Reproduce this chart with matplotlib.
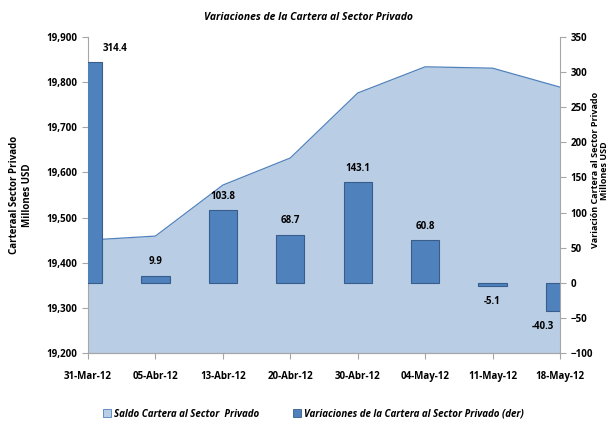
import matplotlib
matplotlib.use('Agg')
import matplotlib.pyplot as plt
from matplotlib.ticker import FuncFormatter
from matplotlib.patches import Patch
import numpy as np

plt.rcParams['font.family'] = ['Open Sans', 'DejaVu Sans']

fechas = ['31-Mar-12', '05-Abr-12', '13-Abr-12', '20-Abr-12',
          '30-Abr-12', '04-May-12', '11-May-12', '18-May-12']
saldo = [19450, 19459, 19572, 19632, 19776, 19834, 19831, 19789]
variacion = [314.4, 9.9, 103.8, 68.7, 143.1, 60.8, -5.1, -40.3]

area_fill = '#B9CDE5'
area_edge = '#4F81BD'
bar_color = '#4F81BD'
bar_edge = '#385D8A'

fig = plt.figure(figsize=(6.14, 4.26), dpi=100)
fig.set_facecolor('w')
ax = fig.add_axes([0.1433, 0.1714, 0.7688, 0.7417])
ax2 = ax.twinx()

x = np.arange(len(fechas))
ax.fill_between(x, 19200, saldo, color=area_fill, lw=0, zorder=1)
ax.plot(x, saldo, color=area_edge, lw=0.9, zorder=2)
ax.set_ylim(19200, 19900)
ax.set_xlim(0, len(fechas) - 1)
ax.set_yticks(np.arange(19200, 19901, 100))
ax.yaxis.set_major_formatter(FuncFormatter(lambda v, p: '{:,.0f}'.format(v)))
ax.set_xticks(x)
ax.set_xticklabels(fechas)

ax2.bar(x, variacion, width=0.42, color=bar_color, edgecolor=bar_edge, lw=0.8, zorder=3)
ax2.set_ylim(-100, 350)
ax2.set_yticks(np.arange(-100, 351, 50))

# etiquetas de las barras
for i, v in enumerate(variacion):
    xi = i
    if i == 0:
        xi = 0.4
    elif i == len(variacion) - 1:
        xi = i - 0.25
    if v >= 0:
        ax2.annotate('{:.1f}'.format(v), (xi, v), xytext=(0, 6), textcoords='offset points',
                     ha='center', va='bottom', fontsize=7, fontweight='bold')
    else:
        ax2.annotate('{:.1f}'.format(v), (xi, v), xytext=(0, -7), textcoords='offset points',
                     ha='center', va='top', fontsize=7, fontweight='bold')

for a in (ax, ax2):
    for s in a.spines.values():
        s.set_color('#A6A6A6')
        s.set_linewidth(0.8)
    a.spines['top'].set_visible(False)
    a.tick_params(labelsize=7, width=0.8, color='#A6A6A6', length=4)
    for t in a.get_yticklabels() + a.get_xticklabels():
        t.set_fontweight('bold')
ax2.spines['left'].set_visible(False)
ax.spines['right'].set_visible(False)
ax.tick_params(axis='x', pad=9)

fig.text(0.502, 0.96, 'Variaciones de la Cartera al Sector Privado', fontsize=7.5,
         fontweight='bold', style='italic', ha='center', va='center')
ax.set_ylabel('Carteraal Sector Privado\nMillones USD', fontsize=7,
              fontweight='bold', labelpad=10, multialignment='center')
fig.text(0.978, 0.60, 'Variación Cartera al Sector Privado\nMillones USD', rotation=90,
         ha='center', va='center', fontsize=6.5, fontweight='bold', multialignment='center',
         linespacing=1.0)

handles = [Patch(facecolor=area_fill, edgecolor=area_edge, lw=0.6),
           Patch(facecolor=bar_color, edgecolor=bar_edge, lw=0.6)]
fig.legend(handles, ['Saldo Cartera al Sector  Privado',
                     'Variaciones de la Cartera al Sector Privado (der)'],
           loc='center', bbox_to_anchor=(0.51, 0.028), ncol=2, frameon=False,
           prop={'size': 7, 'weight': 'bold', 'style': 'italic'},
           handlelength=0.8, handleheight=0.8, handletextpad=0.3, columnspacing=3.5)

fig.savefig('out.png', dpi=100)
